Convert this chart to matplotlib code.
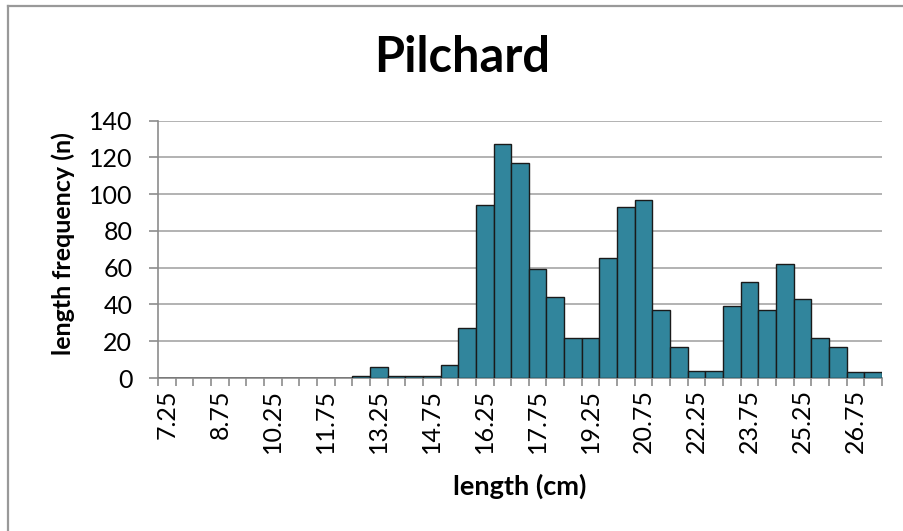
import matplotlib
matplotlib.use("Agg")
import matplotlib.pyplot as plt
from matplotlib.lines import Line2D
import numpy as np

# Data
lengths = [7.25 + 0.5 * i for i in range(41)]
counts = [0, 0, 0, 0, 0, 0, 0, 0, 0, 0, 0,
          1, 6, 1, 1, 1, 7, 27, 94, 127, 117, 59, 44, 22, 22,
          65, 93, 97, 37, 17, 4, 4, 39, 52, 37, 62, 43, 22, 17, 3, 3]
tick_labels = [f"{v:g}" for v in lengths]
yticks = [0, 20, 40, 60, 80, 100, 120, 140]

plt.rcParams['font.family'] = ['Lato', 'DejaVu Sans']

fig = plt.figure(figsize=(9.04, 5.31), dpi=100)
ax = fig.add_axes([158/904, 1-378/531, (882-158)/904, (378-120.5)/531])

x = np.arange(len(lengths))
ax.bar(x, counts, width=1.0, color='#31859C', edgecolor='#1a1a1a', linewidth=1.0, zorder=3)

ax.set_xlim(-0.5, len(lengths) - 0.5)
ax.set_ylim(0, 140)
ax.set_yticks(yticks)
ax.set_yticklabels([str(v) for v in yticks], fontsize=18)
ax.grid(axis='y', color='#a6a6a6', linewidth=1.2, zorder=0)
ax.set_axisbelow(True)

# x ticks: marks at category boundaries, labels at every third center
ax.set_xticks(np.arange(-0.5, len(lengths)), minor=False)
ax.set_xticklabels([])
ax.set_xticks(x[::3], minor=True)
ax.set_xticklabels(tick_labels[::3], minor=True, rotation=90, fontsize=18)
ax.tick_params(axis='x', which='major', length=6, color='#8c8c8c', width=1.2)
ax.tick_params(axis='x', which='minor', length=0, pad=8)
ax.tick_params(axis='y', length=6.5, color='#8c8c8c', width=1.2, pad=12)

for s in ['top', 'right']:
    ax.spines[s].set_visible(False)
for s in ['left', 'bottom']:
    ax.spines[s].set_color('#8c8c8c')
    ax.spines[s].set_linewidth(1.2)

fig.text(462/904, 1-58/531, 'Pilchard', ha='center', va='center', fontsize=35, fontweight='bold')
fig.text(520/904, 1-486/531, 'length (cm)', ha='center', va='center', fontsize=19.5, fontweight='bold')
fig.text(63/904, 1-244/531, 'length frequency (n)', ha='center', va='center', rotation=90,
         fontsize=18, fontweight='bold')

# outer frame (left and top edges visible)
fig.add_artist(Line2D([8/904, 8/904], [0, 1-6/531], transform=fig.transFigure, color='#999999', linewidth=1.6))
fig.add_artist(Line2D([8/904, 1], [1-6/531, 1-6/531], transform=fig.transFigure, color='#999999', linewidth=1.6))

fig.savefig('out.png', dpi=100)
